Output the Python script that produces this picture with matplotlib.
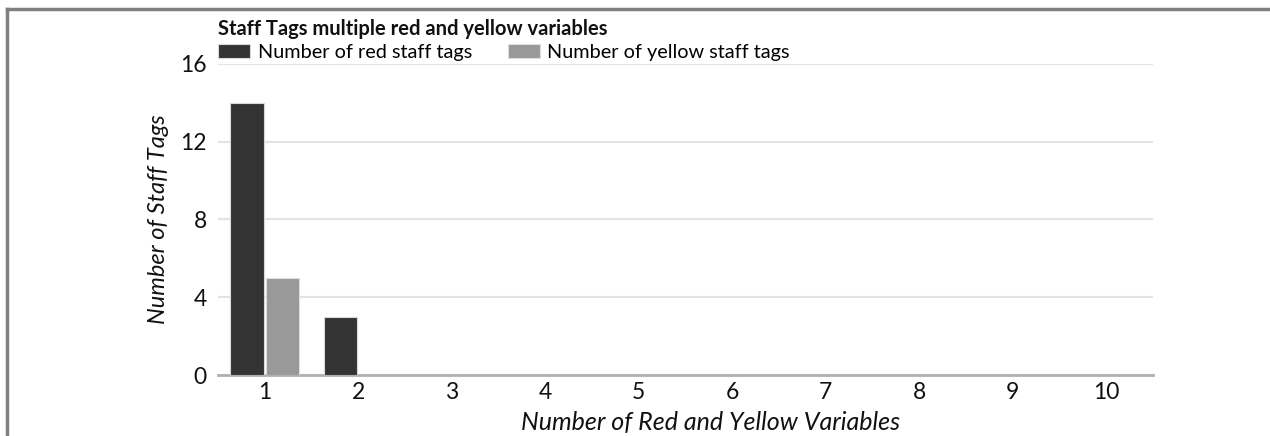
import matplotlib
matplotlib.use("Agg")
import matplotlib.pyplot as plt
from matplotlib.lines import Line2D
import numpy as np

categories = ["1", "2", "3", "4", "5", "6", "7", "8", "9", "10"]
red_tags = [14, 3, 0, 0, 0, 0, 0, 0, 0, 0]
yellow_tags = [5, 0, 0, 0, 0, 0, 0, 0, 0, 0]
yticks = [0, 4, 8, 12, 16]

plt.rcParams['font.family'] = ['Lato', 'DejaVu Sans']

W, H = 1270, 436
fig = plt.figure(figsize=(12.7, 4.36), dpi=100)
ax = fig.add_axes([218 / W, 1 - 375 / H, (1153 - 218) / W, (375 - 64) / H])

x = np.arange(len(categories))
bw = 0.36
ax.bar(x - bw / 2 - 0.01, red_tags, bw, color="#333333", edgecolor="#d8d8d8", linewidth=0.8,
       label="Number of red staff tags", zorder=3)
ax.bar(x + bw / 2 + 0.01, yellow_tags, bw, color="#999999", edgecolor="#dddddd", linewidth=0.8,
       label="Number of yellow staff tags", zorder=3)

ax.set_xlim(-0.5, len(categories) - 0.5)
ax.set_ylim(0, 16)
ax.set_yticks(yticks)
ax.set_xticks(x)
ax.set_xticklabels(categories)
ax.tick_params(axis='both', length=0, labelsize=16.5, colors="#111111")
ax.tick_params(axis='y', pad=8)
ax.tick_params(axis='x', pad=5)
ax.yaxis.grid(True, color="#e3e3e3", linewidth=1.5, zorder=0)
ax.set_axisbelow(True)
for s in ["top", "right", "left"]:
    ax.spines[s].set_visible(False)
ax.spines["bottom"].set_color("#b0b0b0")
ax.spines["bottom"].set_linewidth(2)

ax.set_ylabel("Number of Staff Tags", fontsize=17, style="italic", labelpad=8, color="#111111")
ax.set_xlabel("Number of Red and Yellow Variables", fontsize=18, style="italic", labelpad=6, color="#111111")
ax.xaxis.set_label_coords(0.527, -0.115)
ax.xaxis.label.set_va("top")

fig.text(218 / W, 1 - 29 / H, "Staff Tags multiple red and yellow variables", fontsize=14.5,
         fontweight="bold", va="center", ha="left", color="#111111")

leg = ax.legend(loc="lower left", bbox_to_anchor=(218 / W, 1 - 61 / H), bbox_transform=fig.transFigure,
                ncol=2, frameon=False, fontsize=14.3, handlelength=1.6, handleheight=0.7,
                columnspacing=1.8, handletextpad=0.4, borderaxespad=0, borderpad=0)

# Frame border (top and left)
fig.add_artist(Line2D([6.5 / W, 1.0], [1 - 9.5 / H, 1 - 9.5 / H], transform=fig.transFigure,
                      color="#808080", linewidth=2.5))
fig.add_artist(Line2D([6.5 / W, 6.5 / W], [1 - 9.5 / H, 0], transform=fig.transFigure,
                      color="#808080", linewidth=2.5))

fig.savefig("out.png", dpi=100)
